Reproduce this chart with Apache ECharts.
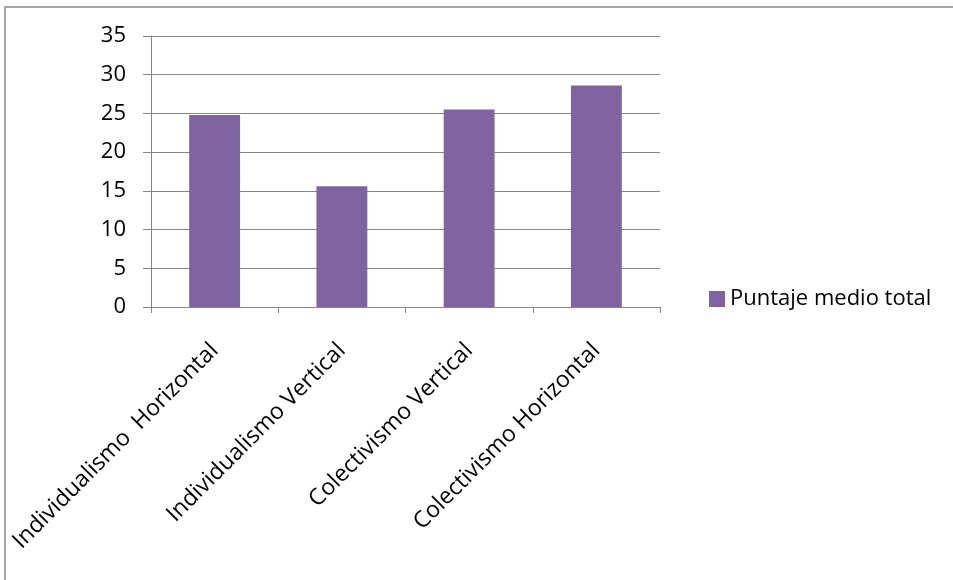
<!DOCTYPE html>
<html>
<head>
<meta charset="utf-8">
<script src="https://cdn.jsdelivr.net/npm/echarts@6/dist/echarts.min.js"></script>
<style>html,body{margin:0;padding:0;background:#fff}#c{width:953px;height:580px}</style>
</head>
<body>
<div id="c"></div>
<script>
var categories = ["Individualismo  Horizontal", "Individualismo Vertical", "Colectivismo Vertical", "Colectivismo Horizontal"];
var seriesName = "Puntaje medio total";
var values = [24.8, 15.6, 25.5, 28.6];
var yTicks = { min: 0, max: 35, interval: 5 };

var chart = echarts.init(document.getElementById('c'));
var font = "'Open Sans', 'Noto Sans', sans-serif";
chart.setOption({
  animation: false,
  backgroundColor: '#fff',
  graphic: [{
    type: 'rect', silent: true,
    shape: { x: 5, y: 7, width: 1000, height: 1000 },
    style: { fill: 'none', stroke: '#a6a6a6', lineWidth: 2 }
  }],
  grid: { left: 151, right: 293, top: 36, bottom: 273 },
  legend: {
    data: [seriesName],
    left: 704, top: 283,
    icon: 'rect', itemWidth: 16, itemHeight: 16, itemGap: 5,
    textStyle: { fontSize: 22, color: '#000', fontFamily: font }
  },
  xAxis: {
    type: 'category',
    data: categories,
    axisLine: { lineStyle: { color: '#868686' } },
    axisTick: { show: true, length: 6, lineStyle: { color: '#868686' } },
    axisLabel: { rotate: 45, interval: 0, margin: 40, fontSize: 23, color: '#000', fontFamily: font }
  },
  yAxis: {
    type: 'value',
    min: yTicks.min, max: yTicks.max, interval: yTicks.interval,
    axisLine: { show: true, lineStyle: { color: '#868686' } },
    axisTick: { show: true, length: 8, lineStyle: { color: '#868686' } },
    splitLine: { lineStyle: { color: '#868686' } },
    axisLabel: { fontSize: 22, color: '#000', margin: 25, fontFamily: font }
  },
  series: [{
    name: seriesName,
    type: 'bar',
    data: values,
    barWidth: '40%',
    itemStyle: { color: '#8064A2' }
  }]
});
</script>
</body>
</html>
